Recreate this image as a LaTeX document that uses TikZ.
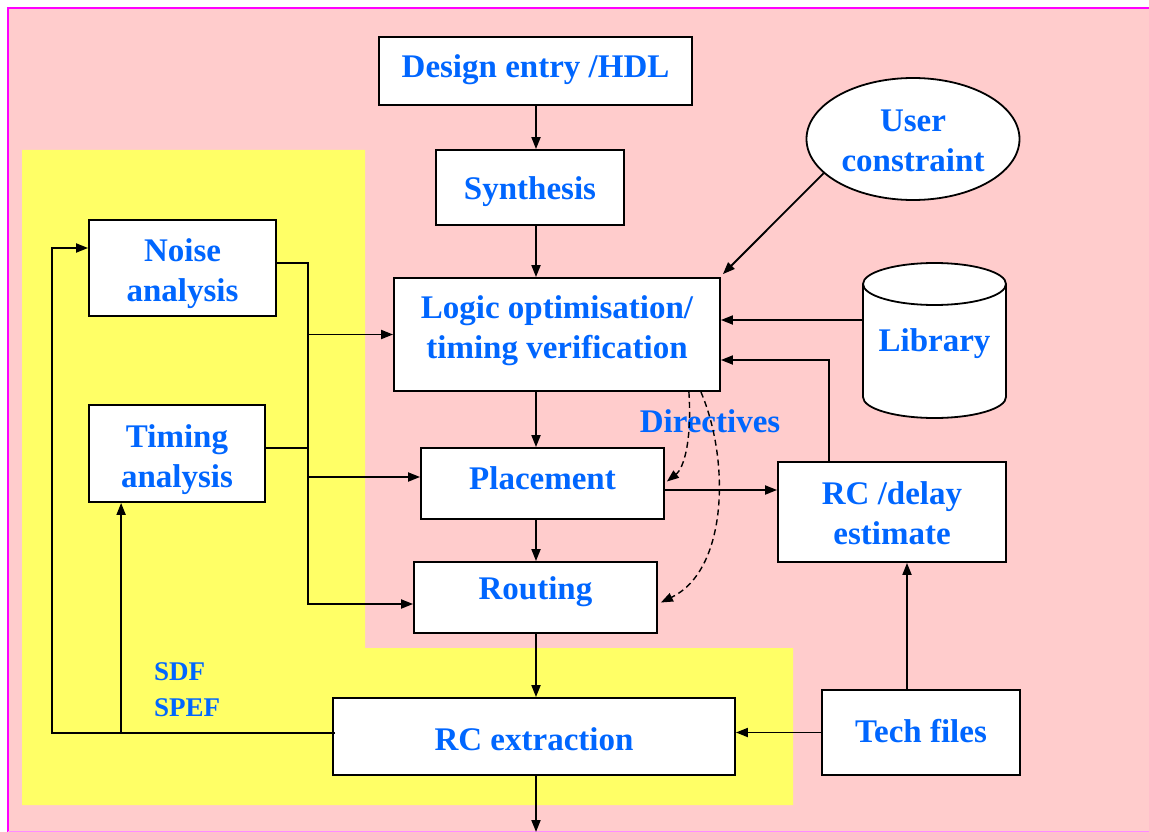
\documentclass[tikz,border=0pt]{standalone}
\usepackage{fontspec}
\setmainfont{Liberation Serif}
\usetikzlibrary{arrows.meta,shapes.geometric,calc}
\definecolor{bgpink}{HTML}{FFCCCC}
\definecolor{bgyellow}{HTML}{FFFF66}
\definecolor{txtblue}{HTML}{0066FF}
\definecolor{borderm}{HTML}{FF00FF}
\newcommand{\dgbig}{\fontsize{33}{40}\selectfont\bfseries}
\newcommand{\dgsmall}{\fontsize{27}{36}\selectfont\bfseries}
\begin{document}
\begin{tikzpicture}[x=1pt,y=-1pt,
  box/.style={draw=black,fill=white,line width=1.8pt,text=txtblue,font=\dgbig,align=center,inner sep=0pt},
  % single-line text: cap middle placed at node centre, moved up (#1>0) or down (#1<0)
  capup/.style={text height=22pt,text depth=2*#1},
  capdown/.style={text height=22pt+2*#1,text depth=0pt},
  conn/.style={line width=1.8pt,-{Triangle[length=12pt,width=9pt]}},
  plainline/.style={line width=1.8pt},
  dashconn/.style={line width=1.4pt,dash pattern=on 6pt off 4pt,-{Triangle[length=12pt,width=9pt]}},
  lbl/.style={text=txtblue,inner sep=0pt}
]
\useasboundingbox (0,0) rectangle (1149,832);
\clip (0,0) rectangle (1149,832);
% background
\fill[bgpink] (8,8) rectangle (1160,840);
\draw[borderm,line width=2pt] (1160,8) -- (8,8) -- (8,840);
\draw[borderm!45,line width=1pt] (8,831.5) -- (1160,831.5);
\fill[bgyellow] (22,150) -- (365,150) -- (365,648) -- (793,648) -- (793,805) -- (22,805) -- cycle;

% library cylinder
\path[fill=white,draw=black,line width=1.8pt] (863,284) -- (863,397) arc[start angle=180,end angle=360,x radius=71.5pt,y radius=21pt] -- (1006,284);
\path[fill=white,draw=black,line width=1.8pt] (934.5,284) ellipse[x radius=71.5pt,y radius=21pt];
\node[lbl,font=\dgbig,capup=0pt,minimum width=143pt,minimum height=112pt] (library) at (934.5,340) {Library};

% nodes
\node[box,capup=4pt,minimum width=313pt,minimum height=68pt] (design) at (535.5,71) {Design entry /HDL};
\node[box,capdown=1pt,minimum width=188pt,minimum height=75pt] (synth) at (530,187.5) {Synthesis};
\node[box,minimum width=326pt,minimum height=113pt,
      label={[lbl,font=\dgbig,align=center,yshift=4pt]center:Logic optimisation/\\timing verification}] (logic) at (557,334.5) {};
\node[box,minimum width=187pt,minimum height=96pt,
      label={[lbl,font=\dgbig,align=center,yshift=-6pt]center:Noise\\analysis}] (noise) at (182.5,268) {};
\node[box,minimum width=176pt,minimum height=97pt,
      label={[lbl,font=\dgbig,align=center,yshift=-6pt]center:Timing\\analysis}] (timing) at (177,453.5) {};
\node[box,capup=5pt,minimum width=243pt,minimum height=71pt] (placement) at (542.5,483.5) {Placement};
\node[box,minimum width=228pt,minimum height=100pt,
      label={[lbl,font=\dgbig,align=center,yshift=-1.5pt]center:RC /delay\\estimate}] (rcd) at (892,512) {};
\node[box,capup=9.5pt,minimum width=243pt,minimum height=71pt] (routing) at (535.5,597.5) {Routing};
\node[box,capdown=3pt,minimum width=402pt,minimum height=77pt] (rcx) at (534,736.5) {RC extraction};
\node[box,capup=1.5pt,minimum width=198pt,minimum height=85pt] (tech) at (921,732.5) {Tech files};
\node[box,ellipse,minimum width=213pt,minimum height=122pt,
      label={[lbl,font=\dgbig,align=center,yshift=-2pt]center:User\\constraint}] (user) at (913,139) {};

% labels
\node[lbl,font=\dgbig] (directives) at (710,421) {Directives};
\node[lbl,font=\dgsmall,align=left,anchor=west] (sdf) at (154,690) {SDF\\SPEF};

% main column
\coordinate (col) at (536,0);
\coordinate (out) at (536,832);
\draw[conn] (col |- design.south) -- (col |- synth.north);
\draw[conn] (col |- synth.south) -- (col |- logic.north);
\draw[conn] (col |- logic.south) -- (col |- placement.north);
\draw[conn] (col |- placement.south) -- (col |- routing.north);
\draw[conn] (col |- routing.south) -- (col |- rcx.north);
\draw[conn] (col |- rcx.south) -- (out);

% right side
\draw[conn] (user.201) -- ($(logic.north east)+(2,-3)$);
\coordinate (libout) at ($(library.west)+(0,-20)$);
\draw[conn] (libout) -- (logic.east |- libout);
\coordinate (rcdup) at ($(rcd.north west)+(52,0)$);
\coordinate (lgback) at ($(logic.east)+(0,25.5)$);
\draw[conn] (rcdup) |- (lgback);
\coordinate (plout) at ($(placement.east)+(0,6.5)$);
\draw[conn] (plout) -- (rcd.west |- plout);
\draw[conn] (tech.west) -- (rcx.east |- tech.west);
\coordinate (techup) at ($(tech.north)+(-14,0)$);
\draw[conn] (techup) -- (techup |- rcd.south);

% left side bus
\coordinate (jx) at (308,0);
\coordinate (nz) at ($(noise.east)+(0,-5)$);
\coordinate (rtin) at ($(routing.west)+(0,6.5)$);
\draw[conn] (nz) -| (jx |- rtin) -- (rtin);
\draw[conn] (jx |- logic.west) -- (logic.west);
\coordinate (tmout) at ($(timing.east)+(0,-5.5)$);
\draw[plainline] (tmout) -- (jx |- tmout);
\coordinate (plin) at ($(placement.west)+(0,-6.5)$);
\draw[conn] (jx |- plin) -- (plin);

% feedback from RC extraction
\coordinate (rxo) at ($(rcx.west)+(3,-3.5)$);
\coordinate (nzin) at ($(noise.west)+(0,-20)$);
\coordinate (fx) at (52,0);
\draw[conn] (rxo) -| (fx |- nzin) -- (nzin);
\coordinate (tmin) at ($(timing.south west)+(33,0)$);
\draw[conn] (tmin |- rxo) -- (tmin);

% directives (dashed)
\draw[dashconn] ($(logic.south east)+(-32,0)$) .. controls (692,440) and (684,468) .. ($(placement.east)+(2,-2)$);
\draw[dashconn] ($(logic.south east)+(-20,0)$) .. controls (730,460) and (728,570) .. ($(routing.east)+(3,5)$);
\end{tikzpicture}
\end{document}
